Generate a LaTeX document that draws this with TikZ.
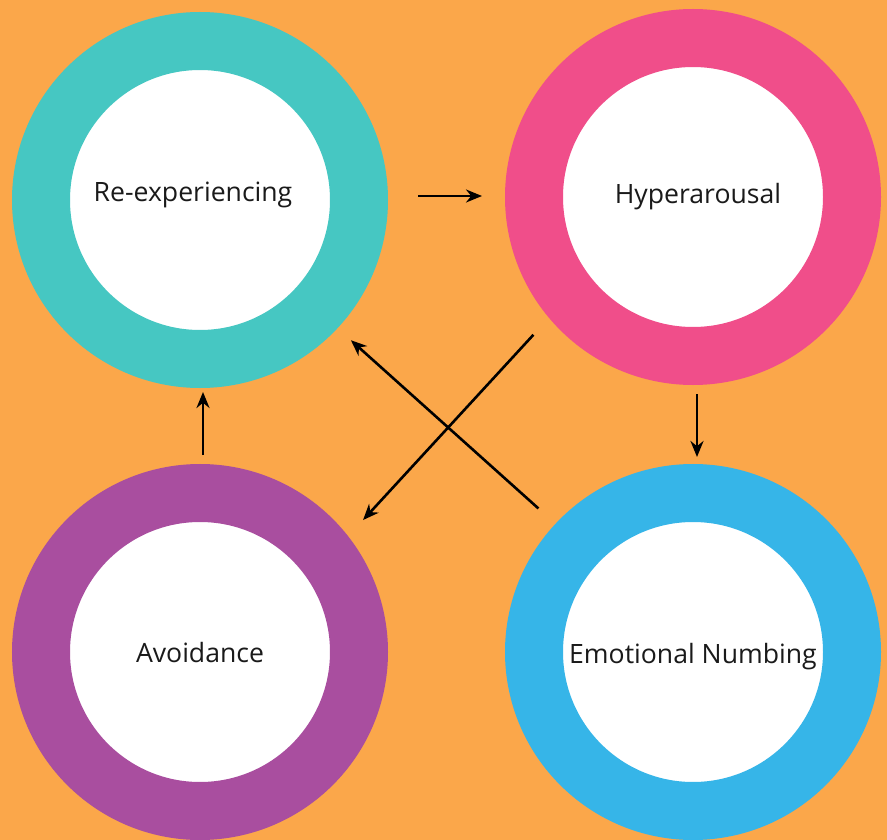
\documentclass[tikz,border=0pt]{standalone}
\usepackage{fontspec}
\setmainfont{Open Sans}
\usetikzlibrary{arrows.meta}
\definecolor{bgorange}{HTML}{FBA74A}
\definecolor{ringteal}{HTML}{46C7C2}
\definecolor{ringpink}{HTML}{F04E8A}
\definecolor{ringpurple}{HTML}{A94E9F}
\definecolor{ringblue}{HTML}{36B5E8}
\definecolor{labelgray}{HTML}{1A1A1A}
\newcommand\ringtext[2]{\raisebox{#1}[0pt][0pt]{#2}}
\tikzset{ring/.style={circle,draw=#1,fill=white,line width=58pt,minimum size=318pt,inner sep=0pt,
                      font=\fontsize{26.6}{32}\selectfont,text=labelgray},
         link/.style={-{Stealth[length=16pt,width=13pt]},line width=2.6pt,black},
        }

\begin{document}
\begin{tikzpicture}[x=1pt,y=-1pt]
        \useasboundingbox (0,0) rectangle (887,840);
        \clip (0,0) rectangle (887,840);
        \fill[bgorange] (0,0) rectangle (887,840);

        \node[ring=ringteal](reexp)at(200,200){\ringtext{-2pt}{Re-experiencing\hspace{14pt}}};
        \node[ring=ringpink](hyper)at(693,197){\ringtext{-6pt}{\hspace{10pt}Hyperarousal}};
        \node[ring=ringpurple](avoid)at(200,652){\ringtext{-10pt}{Avoidance}};
        \node[ring=ringblue](numb)at(693,652){\ringtext{-11pt}{Emotional Numbing}};

        \draw[link,shorten <=30pt,shorten >=23pt]([yshift=4pt]reexp.east)--([yshift=1pt]hyper.west);
        \draw[link,shorten <=9pt,shorten >=4pt]([xshift=3pt]avoid.north)--([xshift=3pt]reexp.south);
        \draw[link,shorten <=9pt,shorten >=7pt]([xshift=4pt]hyper.south)--([xshift=4pt]numb.north);

        \draw[link,shorten <=23pt,shorten >=22pt](hyper.220)--(avoid.38);
        \draw[link,shorten <=23pt,shorten >=18pt](numb.137)--(reexp.317);
    \end{tikzpicture}
\end{document}
